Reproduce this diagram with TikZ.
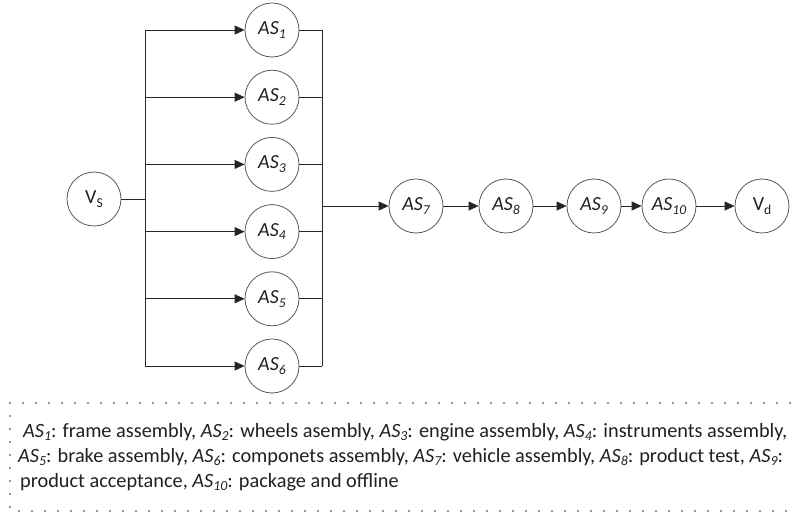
\documentclass[tikz,border=0pt]{standalone}
\usepackage{fontspec}
\usepackage{graphicx}
\setmainfont{Carlito}
\usetikzlibrary{arrows.meta}
\newcommand{\lsub}[1]{\raisebox{-0.4ex}{\scalebox{0.68}{#1}}}
\newcommand{\AS}[1]{\textit{AS\lsub{#1}}}
\definecolor{txt}{HTML}{202020}
\begin{document}
\begin{tikzpicture}[x=1pt,y=-1pt,
  st/.style={circle,draw=black!65,line width=0.8pt,minimum size=54pt,inner sep=0pt,text=txt,font=\fontsize{20}{20}\selectfont},
  ln/.style={line width=0.9pt,draw=black!85},
  arr/.style={ln,-{Triangle[length=10pt,width=9pt]}},
  dotbox/.style={draw=black!80,line width=1.8pt,line cap=round,dash pattern=on 0pt off 13pt},
  captxt/.style={anchor=base west,inner sep=0pt,text=txt,font=\fontsize{20.3}{20.3}\selectfont}]
\useasboundingbox (0,0) rectangle (795,518);

\node[st] (vs) at (94,199) {V\lsub{S}};
\node[st] (as1) at (272,30) {\AS{1}};
\node[st] (as2) at (272,97.2) {\AS{2}};
\node[st] (as3) at (272,164.4) {\AS{3}};
\node[st] (as4) at (272,231.6) {\AS{4}};
\node[st] (as5) at (272,298.8) {\AS{5}};
\node[st] (as6) at (272,366) {\AS{6}};
\node[st] (as7) at (416,206) {\AS{7}};
\node[st] (as8) at (506,206) {\AS{8}};
\node[st] (as9) at (594,206) {\AS{9}};
\node[st] (as10) at (669,206) {\AS{10}};
\node[st] (vd) at (762,206) {V\lsub{d}};

\coordinate (lb) at (145,199);
\coordinate (rb) at (322,206);

\draw[ln] (vs) -- (lb);
\draw[ln] (lb |- as1) -- (lb |- as6);
\foreach \i in {1,...,6} {
  \draw[arr] (lb |- as\i) -- (as\i);
  \draw[ln] (as\i) -- (rb |- as\i);
}
\draw[ln] (rb |- as1) -- (rb |- as6);
\draw[arr] (rb) -- (as7);
\draw[arr] (as7) -- (as8);
\draw[arr] (as8) -- (as9);
\draw[arr] (as9) -- (as10);
\draw[arr] (as10) -- (vd);

\coordinate (btl) at (10,403);
\coordinate (btr) at (790,403);
\coordinate (bbl) at (10,511);
\coordinate (bbr) at (790,511);
\draw[dotbox] (btr) -- (btl) -- (bbl) -- (bbr);

\node[captxt] (cap1) at (23,437) {\AS{1}: frame assembly, \AS{2}: wheels asembly, \AS{3}: engine assembly, \AS{4}: instruments assembly,};
\node[captxt] (cap2) at (18,462) {\AS{5}: brake assembly, \AS{6}: componets assembly, \AS{7}: vehicle assembly, \AS{8}: product test, \AS{9}:};
\node[captxt] (cap3) at (20,487) {product acceptance, \AS{10}: package and offline};
\end{tikzpicture}
\end{document}
